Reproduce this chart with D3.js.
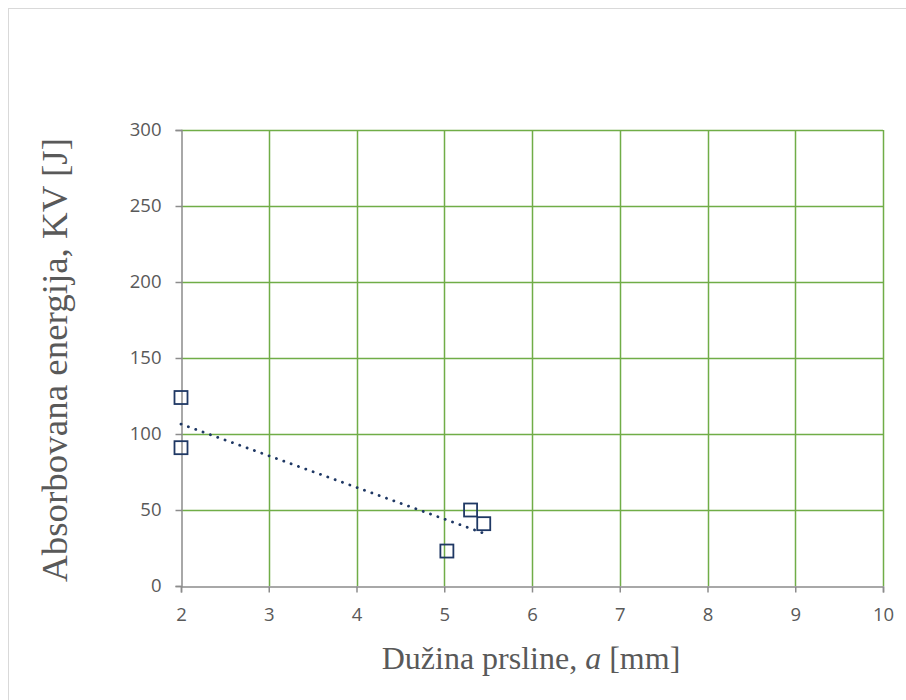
<!DOCTYPE html>
<html><head><meta charset="utf-8">
<script src="https://cdn.jsdelivr.net/npm/d3@7"></script>
<style>body{margin:0;background:#fff}svg{display:block}</style>
</head><body>
<svg id="c" width="906" height="700"></svg>
<script>
const xValues = [2, 2, 5.03, 5.3, 5.45];
const yValues = [124, 91, 23, 50, 41];
const xTicks = [2, 3, 4, 5, 6, 7, 8, 9, 10];
const yTicks = [0, 50, 100, 150, 200, 250, 300];
const xTitle = "Dužina prsline, ";
const xTitleItalic = "a";
const xTitleEnd = " [mm]";
const yTitle = "Absorbovana energija, KV [J]";

const svg = d3.select("#c");
svg.append("rect").attr("x", 8.5).attr("y", 8.5).attr("width", 920).attr("height", 720)
  .attr("fill", "#fff").attr("stroke", "#d9d9d9").attr("stroke-width", 1);

const L = 181, R = 883, T = 130, B = 586;
const x = d3.scaleLinear().domain([2, 10]).range([L, R]);
const y = d3.scaleLinear().domain([0, 300]).range([B, T]);
const green = "#70ad47", gray = "#8c8c8c", txt = "#595959", navy = "#1f3864";
const tickFont = "'Open Sans', sans-serif";

// grid
svg.append("g").selectAll("line").data(yTicks.filter(d => d > 0)).join("line")
  .attr("x1", L).attr("x2", R).attr("y1", d => Math.round(y(d)) + 0.5).attr("y2", d => Math.round(y(d)) + 0.5)
  .attr("stroke", green).attr("stroke-width", 1.5);
svg.append("g").selectAll("line").data(xTicks.filter(d => d > 2)).join("line")
  .attr("y1", T).attr("y2", B).attr("x1", d => Math.round(x(d)) + 0.5).attr("x2", d => Math.round(x(d)) + 0.5)
  .attr("stroke", green).attr("stroke-width", 1.5);

// axes
const yAxis = d3.axisLeft(y).tickValues(yTicks).tickSize(6).tickPadding(14);
const gy = svg.append("g").attr("transform", `translate(${L + 0.5},0)`).call(yAxis);
gy.attr("font-size", null).attr("font-family", null);
gy.select(".domain").attr("stroke", gray).attr("stroke-width", 1.5);
gy.selectAll(".tick line").attr("stroke", gray).attr("stroke-width", 1.5);
gy.selectAll("text").attr("fill", txt).attr("font-family", tickFont).attr("font-size", 18.5);

const xAxis = d3.axisBottom(x).tickValues(xTicks).tickSize(6).tickPadding(15);
const gx = svg.append("g").attr("transform", `translate(0,${B + 0.5})`).call(xAxis);
gx.attr("font-size", null).attr("font-family", null);
gx.select(".domain").attr("stroke", gray).attr("stroke-width", 1.5);
gx.selectAll(".tick line").attr("stroke", gray).attr("stroke-width", 1.5);
gx.selectAll("text").attr("fill", txt).attr("font-family", tickFont).attr("font-size", 18.5);

// trendline (least squares fit of the data)
const n = xValues.length;
const mx = d3.mean(xValues), my = d3.mean(yValues);
let sxy = 0, sxx = 0;
for (let i = 0; i < n; i++) { sxy += (xValues[i] - mx) * (yValues[i] - my); sxx += (xValues[i] - mx) ** 2; }
const slope = sxy / sxx, icpt = my - slope * mx;
const x0 = d3.min(xValues), x1 = d3.max(xValues);
svg.append("line")
  .attr("x1", x(x0)).attr("y1", y(icpt + slope * x0))
  .attr("x2", x(x1)).attr("y2", y(icpt + slope * x1))
  .attr("stroke", navy).attr("stroke-width", 2.8).attr("stroke-linecap", "round")
  .attr("stroke-dasharray", "0.1 7.7");

// markers
const s = 13;
svg.append("g").selectAll("rect").data(xValues.map((d, i) => [d, yValues[i]])).join("rect")
  .attr("x", d => x(d[0]) - s / 2).attr("y", d => y(d[1]) - s / 2)
  .attr("width", s).attr("height", s)
  .attr("fill", "none").attr("stroke", navy).attr("stroke-width", 1.8);

// titles
const serif = "'Liberation Serif', 'Times New Roman', serif";
const xt = svg.append("text").attr("x", 531).attr("y", 669).attr("text-anchor", "middle")
  .attr("fill", txt).attr("font-family", serif).attr("font-size", 32);
xt.append("tspan").text(xTitle);
xt.append("tspan").attr("font-style", "italic").text(xTitleItalic);
xt.append("tspan").text(xTitleEnd);

svg.append("text").attr("transform", "translate(67,360) rotate(-90)").attr("text-anchor", "middle")
  .attr("fill", txt).attr("font-family", serif).attr("font-size", 36)
  .attr("textLength", 444).attr("lengthAdjust", "spacingAndGlyphs")
  .text(yTitle);
</script>
</body></html>
